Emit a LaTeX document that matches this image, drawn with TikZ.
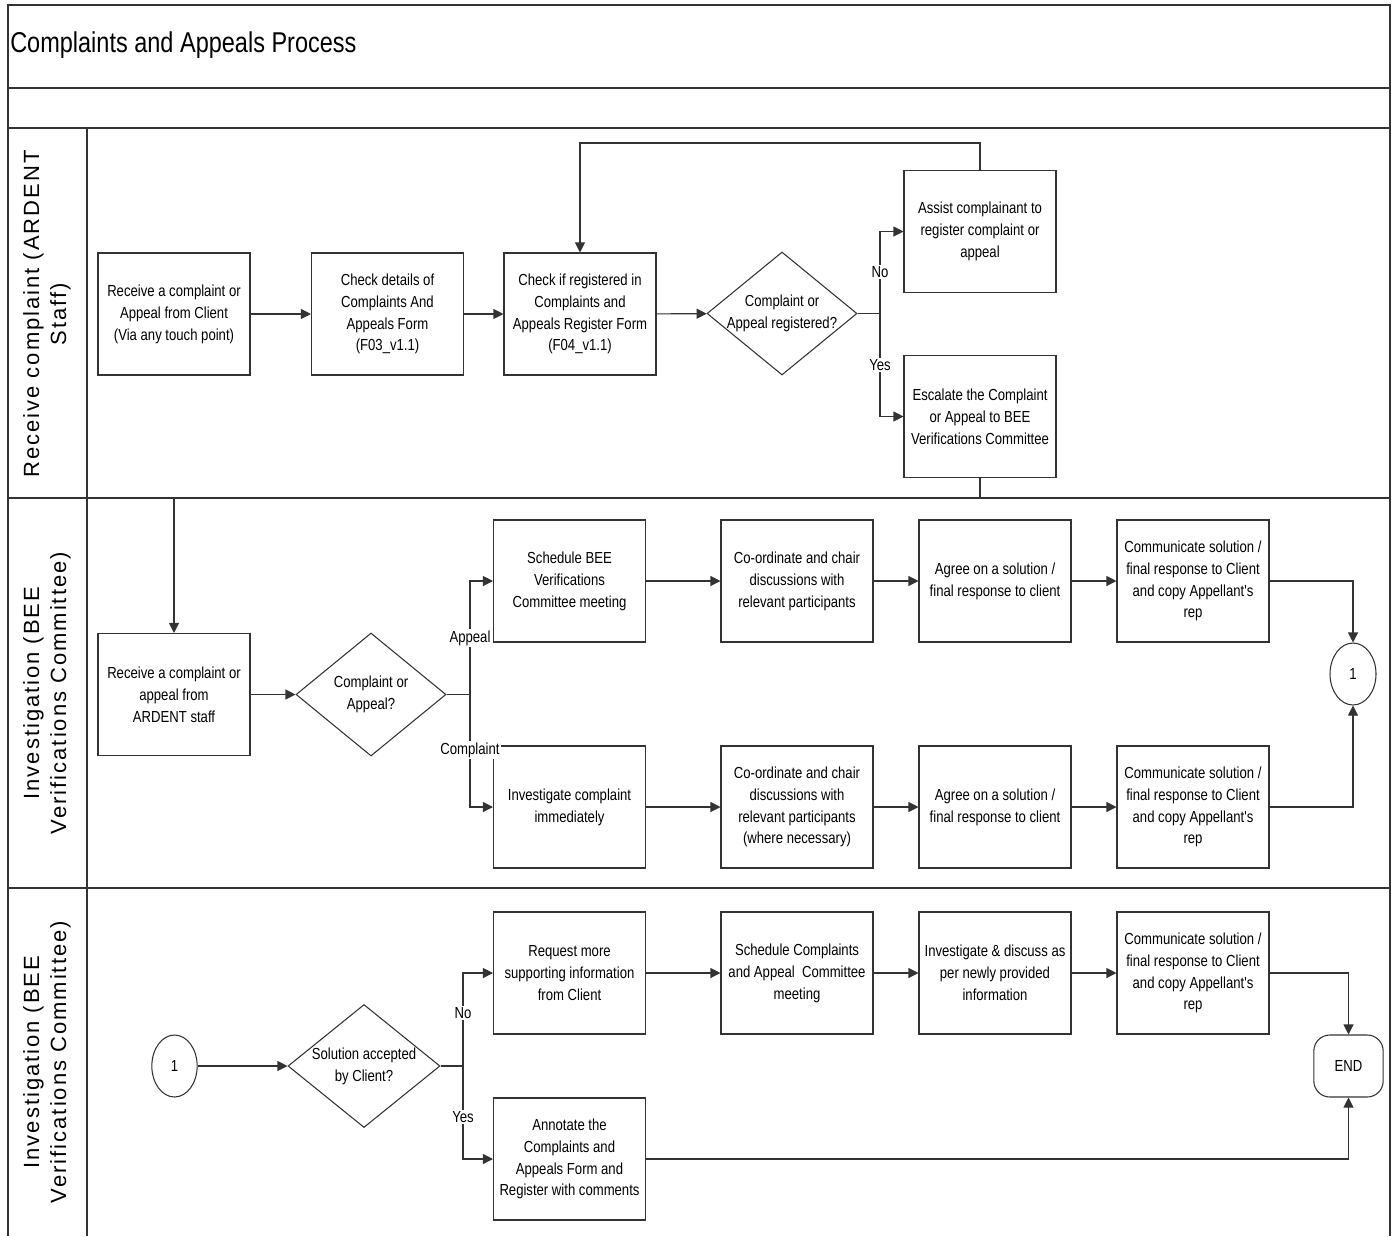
\documentclass[tikz,border=0pt]{standalone}
\usepackage{fontspec}
\usepackage{graphicx}
\setmainfont{Liberation Sans}
\newfontfamily\narrowfont{Liberation Sans}[FakeStretch=0.82]
\newfontfamily\lanefont{Liberation Sans}[LetterSpace=9]
\usetikzlibrary{arrows.meta,shapes.geometric,shapes.misc}
\definecolor{ln}{HTML}{333333}
\tikzset{
  box/.style={draw=ln, line width=0.8pt, minimum width=114pt, minimum height=91.5pt, inner sep=0pt,
    align=center, font=\narrowfont\fontsize{12}{16.4}\selectfont},
  dia/.style={draw=ln, line width=0.8pt, diamond, minimum width=112.5pt, minimum height=92.25pt, inner sep=0pt},
  diatext/.style={align=center, font=\narrowfont\fontsize{12}{16.4}\selectfont},
  conn/.style={draw=ln, line width=0.8pt},
  arr/.style={conn, -{Triangle[length=7.5pt,width=7.5pt]}},
  lbl/.style={fill=white, inner sep=1pt, font=\narrowfont\fontsize{12}{14}\selectfont},
  lane/.style={rotate=90, align=center, font=\lanefont\fontsize{16.5}{20.25}\selectfont},
  frame/.style={draw=ln, line width=0.9pt},
}
\begin{document}
\begin{tikzpicture}[x=0.75pt,y=-0.75pt]
\useasboundingbox (0,0) rectangle (1395,1236);
% frame
\draw[frame] (8,1236) -- (8,5) -- (1390,5) -- (1390,1236);
\draw[frame] (8,88) -- (1390,88);
\draw[frame] (8,128) -- (1390,128);
\draw[frame] (8,498) -- (1390,498);
\draw[frame] (8,888) -- (1390,888);
\draw[frame] (87,128) -- (87,1236);
\node[anchor=west, inner sep=0pt, font=\narrowfont\fontsize{21.5}{26}\selectfont] (title) at (10,45) {Complaints and Appeals Process};
% lane headers
\node[lane] (h1) at (47,314) {Receive complaint (ARDENT\\Staff)};
\node[lane] (h2) at (47,693) {Investigation (BEE\\Verifications Committee)};
\node[lane] (h3) at (47,1062) {Investigation (BEE\\Verifications Committee)};

% lane 1
\node[box] (A) at (174,314) {Receive a complaint or\\Appeal from Client\\(Via any touch point)};
\node[box] (B) at (387.5,314) {Check details of\\Complaints And\\Appeals Form\\(F03\_v1.1)};
\node[box] (C) at (580,314) {Check if registered in\\Complaints and\\Appeals Register Form\\(F04\_v1.1)};
\node[dia, label={[diatext]center:{Complaint or\\Appeal registered?}}] (D) at (782,313.5) {};
\node[box] (As) at (980,231.5) {Assist complainant to\\register complaint or\\appeal};
\node[box] (Es) at (980,416.5) {Escalate the Complaint\\or Appeal to BEE\\Verifications Committee};
\coordinate (b1) at (880,313.5);
\draw[arr] (A) -- (B);
\draw[arr] (B) -- (C);
\draw[arr] (C) -- (D);
\draw[conn] (D.east) -- (b1);
\draw[arr] (b1) |- (As.west);
\draw[arr] (b1) |- (Es.west);
\node[lbl] (no1) at (880,272) {No};
\node[lbl] (yes1) at (880,365) {Yes};
\draw[arr] (As.north) -- ++(0,-27) -| (C.north);

% lane 2
\node[box] (R2) at (174,694.5) {Receive a complaint or\\appeal from\\ARDENT staff};
\node[dia, label={[diatext]center:{Complaint or\\Appeal?}}] (D2) at (371,694.5) {};
\node[box] (S1) at (569.5,581) {Schedule BEE\\Verifications\\Committee meeting};
\node[box] (Co1) at (797,581) {Co-ordinate and chair\\discussions with\\relevant participants};
\node[box] (Ag1) at (995,581) {Agree on a solution /\\final response to client};
\node[box] (Cm1) at (1193,581) {Communicate solution /\\final response to Client\\and copy Appellant's\\rep};
\node[box] (I1) at (569.5,807) {Investigate complaint\\immediately};
\node[box] (Co2) at (797,807) {Co-ordinate and chair\\discussions with\\relevant participants\\(where necessary)};
\node[box] (Ag2) at (995,807) {Agree on a solution /\\final response to client};
\node[box] (Cm2) at (1193,807) {Communicate solution /\\final response to Client\\and copy Appellant's\\rep};
\node[ellipse, draw=ln, line width=0.8pt, minimum width=34.5pt, minimum height=46.5pt, inner sep=0pt,
  font=\narrowfont\fontsize{12}{14}\selectfont] (K1) at (1353,674) {1};
\coordinate (b2) at (470,694.5);
\draw[arr] (Es.south) -- ++(0,19) -| (R2.north);
\draw[arr] (R2) -- (D2);
\draw[conn] (D2.east) -- (b2);
\draw[arr] (b2) |- (S1.west);
\draw[arr] (b2) |- (I1.west);
\node[lbl] (ap) at (470,638) {Appeal};
\node[lbl] (cp) at (470,750) {Complaint};
\draw[arr] (S1) -- (Co1);
\draw[arr] (Co1) -- (Ag1);
\draw[arr] (Ag1) -- (Cm1);
\draw[arr] (I1) -- (Co2);
\draw[arr] (Co2) -- (Ag2);
\draw[arr] (Ag2) -- (Cm2);
\draw[arr] (Cm1.east) -| (K1.north);
\draw[arr] (Cm2.east) -| (K1.south);

% lane 3
\node[ellipse, draw=ln, line width=0.8pt, minimum width=34pt, minimum height=46.5pt, inner sep=0pt,
  font=\narrowfont\fontsize{12}{14}\selectfont] (K2) at (174.5,1066) {1};
\node[dia, minimum width=114pt, label={[diatext]center:{Solution accepted\\by Client?}}] (D3) at (364,1066) {};
\node[box] (Rq) at (569.5,973) {Request more\\supporting information\\from Client};
\node[box] (Sc) at (797,973) {Schedule Complaints\\and Appeal~~Committee\\meeting};
\node[box] (Iv) at (995,973) {Investigate \& discuss as\\per newly provided\\information};
\node[box] (Cm3) at (1193,973) {Communicate solution /\\final response to Client\\and copy Appellant's\\rep};
\node[box] (An) at (569.5,1159) {Annotate the\\Complaints and\\Appeals Form and\\Register with comments};
\node[rectangle, rounded corners=12pt, draw=ln, line width=0.8pt, minimum width=52pt,
  minimum height=46.5pt, inner sep=0pt, font=\narrowfont\fontsize{12}{14}\selectfont] (E) at (1348.5,1066) {END};
\coordinate (b3) at (463,1066);
\draw[arr] (K2) -- (D3);
\draw[conn] (D3.east) -- (b3);
\draw[arr] (b3) |- (Rq.west);
\draw[arr] (b3) |- (An.west);
\node[lbl] (no3) at (463,1013) {No};
\node[lbl] (yes3) at (463,1117) {Yes};
\draw[arr] (Rq) -- (Sc);
\draw[arr] (Sc) -- (Iv);
\draw[arr] (Iv) -- (Cm3);
\draw[arr] (Cm3.east) -| (E.north);
\draw[arr] (An.east) -| (E.south);
\end{tikzpicture}
\end{document}
